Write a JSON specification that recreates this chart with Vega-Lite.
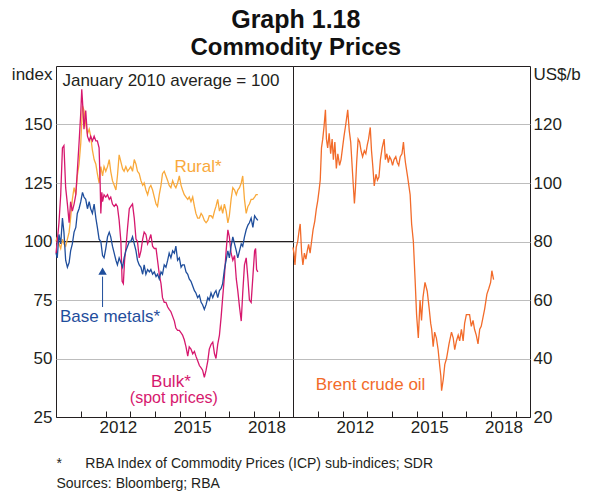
{
"$schema":"https://vega.github.io/schema/vega-lite/v6.json",
"background":"white",
"padding":{"left":10,"top":7,"right":5,"bottom":5},
"config":{"font":"Liberation Sans","view":{"stroke":"#231F20","strokeWidth":1},"axis":{"labelFont":"Liberation Sans","labelFontSize":17,"labelColor":"#231F20","titleFont":"Liberation Sans"}},
"title":{"text":"Graph 1.18","subtitle":"Commodity Prices","font":"Liberation Sans","subtitleFont":"Liberation Sans","fontSize":25,"subtitleFontSize":24,"fontWeight":"bold","subtitleFontWeight":"bold","color":"#111","subtitleColor":"#111","anchor":"middle","subtitlePadding":3,"offset":5},
"bounds":"flush",
"spacing":0,
"datasets":{
"idx":[
{"s":"Rural","t":2010.00,"v":100},{"s":"Rural","t":2010.05,"v":102},{"s":"Rural","t":2010.12,"v":99},{"s":"Rural","t":2010.19,"v":97},{"s":"Rural","t":2010.26,"v":101},{"s":"Rural","t":2010.32,"v":99},{"s":"Rural","t":2010.39,"v":98},{"s":"Rural","t":2010.46,"v":101},{"s":"Rural","t":2010.53,"v":104},{"s":"Rural","t":2010.59,"v":110},{"s":"Rural","t":2010.66,"v":118},{"s":"Rural","t":2010.73,"v":123},{"s":"Rural","t":2010.80,"v":120},{"s":"Rural","t":2010.86,"v":128},{"s":"Rural","t":2010.93,"v":133},{"s":"Rural","t":2011.00,"v":142},{"s":"Rural","t":2011.07,"v":158},{"s":"Rural","t":2011.13,"v":156},{"s":"Rural","t":2011.20,"v":150},{"s":"Rural","t":2011.27,"v":146},{"s":"Rural","t":2011.34,"v":148},{"s":"Rural","t":2011.40,"v":145},{"s":"Rural","t":2011.47,"v":139},{"s":"Rural","t":2011.54,"v":135},{"s":"Rural","t":2011.61,"v":133},{"s":"Rural","t":2011.67,"v":129},{"s":"Rural","t":2011.74,"v":125},{"s":"Rural","t":2011.81,"v":132},{"s":"Rural","t":2011.88,"v":128},{"s":"Rural","t":2011.94,"v":132},{"s":"Rural","t":2012.01,"v":130},{"s":"Rural","t":2012.08,"v":132},{"s":"Rural","t":2012.15,"v":135},{"s":"Rural","t":2012.21,"v":130},{"s":"Rural","t":2012.28,"v":126},{"s":"Rural","t":2012.35,"v":124},{"s":"Rural","t":2012.42,"v":122},{"s":"Rural","t":2012.48,"v":128},{"s":"Rural","t":2012.55,"v":137},{"s":"Rural","t":2012.62,"v":134},{"s":"Rural","t":2012.69,"v":131},{"s":"Rural","t":2012.75,"v":130},{"s":"Rural","t":2012.82,"v":132},{"s":"Rural","t":2012.89,"v":130},{"s":"Rural","t":2012.96,"v":131},{"s":"Rural","t":2013.02,"v":132},{"s":"Rural","t":2013.09,"v":130},{"s":"Rural","t":2013.16,"v":135},{"s":"Rural","t":2013.23,"v":133},{"s":"Rural","t":2013.29,"v":130},{"s":"Rural","t":2013.36,"v":129},{"s":"Rural","t":2013.43,"v":126},{"s":"Rural","t":2013.50,"v":124},{"s":"Rural","t":2013.56,"v":125},{"s":"Rural","t":2013.63,"v":122},{"s":"Rural","t":2013.70,"v":120},{"s":"Rural","t":2013.77,"v":123},{"s":"Rural","t":2013.83,"v":124},{"s":"Rural","t":2013.90,"v":122},{"s":"Rural","t":2013.97,"v":119},{"s":"Rural","t":2014.04,"v":116},{"s":"Rural","t":2014.10,"v":115},{"s":"Rural","t":2014.17,"v":120},{"s":"Rural","t":2014.24,"v":124},{"s":"Rural","t":2014.30,"v":129},{"s":"Rural","t":2014.37,"v":130},{"s":"Rural","t":2014.44,"v":128},{"s":"Rural","t":2014.51,"v":126},{"s":"Rural","t":2014.57,"v":124},{"s":"Rural","t":2014.64,"v":123},{"s":"Rural","t":2014.71,"v":126},{"s":"Rural","t":2014.78,"v":124},{"s":"Rural","t":2014.84,"v":123},{"s":"Rural","t":2014.91,"v":125},{"s":"Rural","t":2014.98,"v":128},{"s":"Rural","t":2015.05,"v":124},{"s":"Rural","t":2015.11,"v":122},{"s":"Rural","t":2015.18,"v":120},{"s":"Rural","t":2015.25,"v":119},{"s":"Rural","t":2015.32,"v":118},{"s":"Rural","t":2015.38,"v":119},{"s":"Rural","t":2015.45,"v":117},{"s":"Rural","t":2015.52,"v":119},{"s":"Rural","t":2015.59,"v":115},{"s":"Rural","t":2015.65,"v":112},{"s":"Rural","t":2015.72,"v":110},{"s":"Rural","t":2015.79,"v":110},{"s":"Rural","t":2015.86,"v":112},{"s":"Rural","t":2015.92,"v":111},{"s":"Rural","t":2015.99,"v":109},{"s":"Rural","t":2016.06,"v":108},{"s":"Rural","t":2016.13,"v":109},{"s":"Rural","t":2016.19,"v":111},{"s":"Rural","t":2016.26,"v":111},{"s":"Rural","t":2016.33,"v":110},{"s":"Rural","t":2016.40,"v":113},{"s":"Rural","t":2016.46,"v":115},{"s":"Rural","t":2016.53,"v":118},{"s":"Rural","t":2016.60,"v":113},{"s":"Rural","t":2016.67,"v":115},{"s":"Rural","t":2016.73,"v":112},{"s":"Rural","t":2016.80,"v":116},{"s":"Rural","t":2016.87,"v":113},{"s":"Rural","t":2016.94,"v":108},{"s":"Rural","t":2017.00,"v":111},{"s":"Rural","t":2017.07,"v":118},{"s":"Rural","t":2017.14,"v":123},{"s":"Rural","t":2017.21,"v":122},{"s":"Rural","t":2017.28,"v":120},{"s":"Rural","t":2017.34,"v":122},{"s":"Rural","t":2017.41,"v":123},{"s":"Rural","t":2017.48,"v":125},{"s":"Rural","t":2017.54,"v":128},{"s":"Rural","t":2017.61,"v":118},{"s":"Rural","t":2017.68,"v":112},{"s":"Rural","t":2017.75,"v":115},{"s":"Rural","t":2017.81,"v":116},{"s":"Rural","t":2017.88,"v":118},{"s":"Rural","t":2017.95,"v":118},{"s":"Rural","t":2018.02,"v":119},{"s":"Rural","t":2018.08,"v":120},{"s":"Rural","t":2018.15,"v":120},
{"s":"Bulk","t":2010.00,"v":95},{"s":"Bulk","t":2010.05,"v":100},{"s":"Bulk","t":2010.12,"v":108},{"s":"Bulk","t":2010.19,"v":120},{"s":"Bulk","t":2010.26,"v":140},{"s":"Bulk","t":2010.32,"v":141},{"s":"Bulk","t":2010.39,"v":123},{"s":"Bulk","t":2010.46,"v":116},{"s":"Bulk","t":2010.53,"v":108},{"s":"Bulk","t":2010.59,"v":117},{"s":"Bulk","t":2010.66,"v":113},{"s":"Bulk","t":2010.73,"v":116},{"s":"Bulk","t":2010.80,"v":120},{"s":"Bulk","t":2010.86,"v":130},{"s":"Bulk","t":2010.93,"v":142},{"s":"Bulk","t":2011.00,"v":155},{"s":"Bulk","t":2011.04,"v":165},{"s":"Bulk","t":2011.07,"v":160},{"s":"Bulk","t":2011.13,"v":148},{"s":"Bulk","t":2011.20,"v":156},{"s":"Bulk","t":2011.27,"v":145},{"s":"Bulk","t":2011.34,"v":143},{"s":"Bulk","t":2011.40,"v":145},{"s":"Bulk","t":2011.47,"v":143},{"s":"Bulk","t":2011.54,"v":145},{"s":"Bulk","t":2011.61,"v":143},{"s":"Bulk","t":2011.67,"v":143},{"s":"Bulk","t":2011.74,"v":140},{"s":"Bulk","t":2011.78,"v":126},{"s":"Bulk","t":2011.81,"v":112},{"s":"Bulk","t":2011.85,"v":121},{"s":"Bulk","t":2011.88,"v":117},{"s":"Bulk","t":2011.94,"v":120},{"s":"Bulk","t":2012.01,"v":119},{"s":"Bulk","t":2012.08,"v":120},{"s":"Bulk","t":2012.15,"v":118},{"s":"Bulk","t":2012.21,"v":119},{"s":"Bulk","t":2012.28,"v":116},{"s":"Bulk","t":2012.35,"v":115},{"s":"Bulk","t":2012.42,"v":116},{"s":"Bulk","t":2012.48,"v":115},{"s":"Bulk","t":2012.55,"v":109},{"s":"Bulk","t":2012.62,"v":100},{"s":"Bulk","t":2012.67,"v":83},{"s":"Bulk","t":2012.72,"v":82},{"s":"Bulk","t":2012.77,"v":92},{"s":"Bulk","t":2012.82,"v":97},{"s":"Bulk","t":2012.89,"v":106},{"s":"Bulk","t":2012.96,"v":114},{"s":"Bulk","t":2013.02,"v":115},{"s":"Bulk","t":2013.09,"v":116},{"s":"Bulk","t":2013.16,"v":110},{"s":"Bulk","t":2013.23,"v":101},{"s":"Bulk","t":2013.29,"v":100},{"s":"Bulk","t":2013.36,"v":93},{"s":"Bulk","t":2013.43,"v":96},{"s":"Bulk","t":2013.50,"v":101},{"s":"Bulk","t":2013.56,"v":104},{"s":"Bulk","t":2013.63,"v":103},{"s":"Bulk","t":2013.70,"v":99},{"s":"Bulk","t":2013.77,"v":101},{"s":"Bulk","t":2013.83,"v":103},{"s":"Bulk","t":2013.90,"v":98},{"s":"Bulk","t":2013.97,"v":97},{"s":"Bulk","t":2014.04,"v":97},{"s":"Bulk","t":2014.10,"v":92},{"s":"Bulk","t":2014.17,"v":86},{"s":"Bulk","t":2014.24,"v":82},{"s":"Bulk","t":2014.30,"v":76},{"s":"Bulk","t":2014.37,"v":74},{"s":"Bulk","t":2014.44,"v":74},{"s":"Bulk","t":2014.51,"v":72},{"s":"Bulk","t":2014.57,"v":71},{"s":"Bulk","t":2014.64,"v":70},{"s":"Bulk","t":2014.71,"v":68},{"s":"Bulk","t":2014.78,"v":66},{"s":"Bulk","t":2014.84,"v":63},{"s":"Bulk","t":2014.91,"v":62},{"s":"Bulk","t":2014.98,"v":62},{"s":"Bulk","t":2015.05,"v":61},{"s":"Bulk","t":2015.11,"v":60},{"s":"Bulk","t":2015.18,"v":58},{"s":"Bulk","t":2015.25,"v":55},{"s":"Bulk","t":2015.32,"v":51},{"s":"Bulk","t":2015.38,"v":55},{"s":"Bulk","t":2015.45,"v":54},{"s":"Bulk","t":2015.52,"v":52},{"s":"Bulk","t":2015.59,"v":53},{"s":"Bulk","t":2015.65,"v":51},{"s":"Bulk","t":2015.72,"v":49},{"s":"Bulk","t":2015.79,"v":47},{"s":"Bulk","t":2015.86,"v":46},{"s":"Bulk","t":2015.92,"v":45},{"s":"Bulk","t":2015.99,"v":42},{"s":"Bulk","t":2016.06,"v":45},{"s":"Bulk","t":2016.13,"v":49},{"s":"Bulk","t":2016.19,"v":54},{"s":"Bulk","t":2016.26,"v":56},{"s":"Bulk","t":2016.33,"v":57},{"s":"Bulk","t":2016.40,"v":52},{"s":"Bulk","t":2016.46,"v":50},{"s":"Bulk","t":2016.53,"v":56},{"s":"Bulk","t":2016.60,"v":60},{"s":"Bulk","t":2016.67,"v":68},{"s":"Bulk","t":2016.73,"v":76},{"s":"Bulk","t":2016.80,"v":85},{"s":"Bulk","t":2016.87,"v":96},{"s":"Bulk","t":2016.94,"v":105},{"s":"Bulk","t":2017.00,"v":102},{"s":"Bulk","t":2017.07,"v":95},{"s":"Bulk","t":2017.14,"v":92},{"s":"Bulk","t":2017.21,"v":94},{"s":"Bulk","t":2017.28,"v":84},{"s":"Bulk","t":2017.34,"v":79},{"s":"Bulk","t":2017.41,"v":72},{"s":"Bulk","t":2017.48,"v":66},{"s":"Bulk","t":2017.54,"v":78},{"s":"Bulk","t":2017.61,"v":90},{"s":"Bulk","t":2017.68,"v":93},{"s":"Bulk","t":2017.75,"v":84},{"s":"Bulk","t":2017.81,"v":75},{"s":"Bulk","t":2017.88,"v":74},{"s":"Bulk","t":2017.95,"v":85},{"s":"Bulk","t":2018.02,"v":96},{"s":"Bulk","t":2018.06,"v":97},{"s":"Bulk","t":2018.10,"v":88},{"s":"Bulk","t":2018.15,"v":87},
{"s":"Base metals","t":2010.00,"v":95},{"s":"Base metals","t":2010.05,"v":93},{"s":"Base metals","t":2010.12,"v":103},{"s":"Base metals","t":2010.19,"v":99},{"s":"Base metals","t":2010.26,"v":110},{"s":"Base metals","t":2010.32,"v":104},{"s":"Base metals","t":2010.39,"v":92},{"s":"Base metals","t":2010.46,"v":89},{"s":"Base metals","t":2010.53,"v":91},{"s":"Base metals","t":2010.59,"v":96},{"s":"Base metals","t":2010.66,"v":99},{"s":"Base metals","t":2010.73,"v":104},{"s":"Base metals","t":2010.80,"v":106},{"s":"Base metals","t":2010.86,"v":112},{"s":"Base metals","t":2010.93,"v":114},{"s":"Base metals","t":2011.00,"v":117},{"s":"Base metals","t":2011.07,"v":121},{"s":"Base metals","t":2011.13,"v":119},{"s":"Base metals","t":2011.20,"v":118},{"s":"Base metals","t":2011.27,"v":114},{"s":"Base metals","t":2011.34,"v":117},{"s":"Base metals","t":2011.40,"v":114},{"s":"Base metals","t":2011.47,"v":112},{"s":"Base metals","t":2011.54,"v":116},{"s":"Base metals","t":2011.61,"v":110},{"s":"Base metals","t":2011.67,"v":106},{"s":"Base metals","t":2011.74,"v":101},{"s":"Base metals","t":2011.81,"v":100},{"s":"Base metals","t":2011.88,"v":94},{"s":"Base metals","t":2011.94,"v":93},{"s":"Base metals","t":2012.01,"v":97},{"s":"Base metals","t":2012.08,"v":102},{"s":"Base metals","t":2012.15,"v":104},{"s":"Base metals","t":2012.21,"v":102},{"s":"Base metals","t":2012.28,"v":98},{"s":"Base metals","t":2012.35,"v":95},{"s":"Base metals","t":2012.42,"v":92},{"s":"Base metals","t":2012.48,"v":90},{"s":"Base metals","t":2012.55,"v":93},{"s":"Base metals","t":2012.62,"v":91},{"s":"Base metals","t":2012.69,"v":89},{"s":"Base metals","t":2012.75,"v":93},{"s":"Base metals","t":2012.82,"v":96},{"s":"Base metals","t":2012.89,"v":98},{"s":"Base metals","t":2012.96,"v":100},{"s":"Base metals","t":2013.02,"v":100},{"s":"Base metals","t":2013.09,"v":102},{"s":"Base metals","t":2013.16,"v":99},{"s":"Base metals","t":2013.23,"v":96},{"s":"Base metals","t":2013.29,"v":92},{"s":"Base metals","t":2013.36,"v":90},{"s":"Base metals","t":2013.43,"v":89},{"s":"Base metals","t":2013.50,"v":86},{"s":"Base metals","t":2013.56,"v":90},{"s":"Base metals","t":2013.63,"v":86},{"s":"Base metals","t":2013.70,"v":88},{"s":"Base metals","t":2013.77,"v":87},{"s":"Base metals","t":2013.83,"v":88},{"s":"Base metals","t":2013.90,"v":86},{"s":"Base metals","t":2013.97,"v":87},{"s":"Base metals","t":2014.04,"v":85},{"s":"Base metals","t":2014.10,"v":86},{"s":"Base metals","t":2014.17,"v":84},{"s":"Base metals","t":2014.24,"v":87},{"s":"Base metals","t":2014.30,"v":86},{"s":"Base metals","t":2014.37,"v":90},{"s":"Base metals","t":2014.44,"v":89},{"s":"Base metals","t":2014.51,"v":92},{"s":"Base metals","t":2014.57,"v":95},{"s":"Base metals","t":2014.64,"v":93},{"s":"Base metals","t":2014.71,"v":96},{"s":"Base metals","t":2014.78,"v":95},{"s":"Base metals","t":2014.84,"v":98},{"s":"Base metals","t":2014.91,"v":92},{"s":"Base metals","t":2014.98,"v":93},{"s":"Base metals","t":2015.05,"v":89},{"s":"Base metals","t":2015.11,"v":90},{"s":"Base metals","t":2015.18,"v":90},{"s":"Base metals","t":2015.25,"v":87},{"s":"Base metals","t":2015.32,"v":86},{"s":"Base metals","t":2015.38,"v":84},{"s":"Base metals","t":2015.45,"v":83},{"s":"Base metals","t":2015.52,"v":81},{"s":"Base metals","t":2015.59,"v":79},{"s":"Base metals","t":2015.65,"v":78},{"s":"Base metals","t":2015.72,"v":76},{"s":"Base metals","t":2015.79,"v":77},{"s":"Base metals","t":2015.86,"v":74},{"s":"Base metals","t":2015.92,"v":73},{"s":"Base metals","t":2015.99,"v":71},{"s":"Base metals","t":2016.06,"v":73},{"s":"Base metals","t":2016.13,"v":76},{"s":"Base metals","t":2016.19,"v":75},{"s":"Base metals","t":2016.26,"v":78},{"s":"Base metals","t":2016.33,"v":76},{"s":"Base metals","t":2016.40,"v":78},{"s":"Base metals","t":2016.46,"v":79},{"s":"Base metals","t":2016.53,"v":76},{"s":"Base metals","t":2016.60,"v":79},{"s":"Base metals","t":2016.67,"v":80},{"s":"Base metals","t":2016.73,"v":82},{"s":"Base metals","t":2016.80,"v":88},{"s":"Base metals","t":2016.87,"v":92},{"s":"Base metals","t":2016.94,"v":96},{"s":"Base metals","t":2017.00,"v":93},{"s":"Base metals","t":2017.07,"v":98},{"s":"Base metals","t":2017.14,"v":102},{"s":"Base metals","t":2017.21,"v":99},{"s":"Base metals","t":2017.28,"v":96},{"s":"Base metals","t":2017.34,"v":93},{"s":"Base metals","t":2017.41,"v":96},{"s":"Base metals","t":2017.48,"v":99},{"s":"Base metals","t":2017.54,"v":98},{"s":"Base metals","t":2017.61,"v":102},{"s":"Base metals","t":2017.68,"v":105},{"s":"Base metals","t":2017.75,"v":107},{"s":"Base metals","t":2017.81,"v":108},{"s":"Base metals","t":2017.88,"v":110},{"s":"Base metals","t":2017.95,"v":106},{"s":"Base metals","t":2018.02,"v":111},{"s":"Base metals","t":2018.08,"v":110},{"s":"Base metals","t":2018.15,"v":109}
],
"oil":[
{"t":2010.00,"v":78},{"t":2010.04,"v":76},{"t":2010.08,"v":72},{"t":2010.13,"v":78},{"t":2010.19,"v":80},{"t":2010.25,"v":84},{"t":2010.29,"v":86},{"t":2010.35,"v":76},{"t":2010.40,"v":72},{"t":2010.46,"v":76},{"t":2010.52,"v":74},{"t":2010.58,"v":77},{"t":2010.63,"v":79},{"t":2010.69,"v":76},{"t":2010.75,"v":80},{"t":2010.81,"v":84},{"t":2010.88,"v":87},{"t":2010.94,"v":91},{"t":2011.00,"v":94},{"t":2011.06,"v":98},{"t":2011.10,"v":101},{"t":2011.15,"v":112},{"t":2011.20,"v":115},{"t":2011.25,"v":119},{"t":2011.31,"v":125},{"t":2011.35,"v":115},{"t":2011.40,"v":112},{"t":2011.46,"v":117},{"t":2011.52,"v":110},{"t":2011.58,"v":115},{"t":2011.63,"v":108},{"t":2011.69,"v":114},{"t":2011.75,"v":105},{"t":2011.81,"v":110},{"t":2011.88,"v":106},{"t":2011.94,"v":108},{"t":2012.00,"v":112},{"t":2012.06,"v":116},{"t":2012.13,"v":120},{"t":2012.21,"v":125},{"t":2012.27,"v":118},{"t":2012.33,"v":114},{"t":2012.40,"v":104},{"t":2012.48,"v":93},{"t":2012.52,"v":98},{"t":2012.57,"v":107},{"t":2012.63,"v":115},{"t":2012.69,"v":114},{"t":2012.75,"v":111},{"t":2012.81,"v":109},{"t":2012.88,"v":111},{"t":2012.94,"v":110},{"t":2013.00,"v":113},{"t":2013.05,"v":115},{"t":2013.12,"v":119},{"t":2013.17,"v":111},{"t":2013.22,"v":106},{"t":2013.28,"v":99},{"t":2013.35,"v":103},{"t":2013.41,"v":101},{"t":2013.47,"v":102},{"t":2013.53,"v":108},{"t":2013.60,"v":112},{"t":2013.68,"v":115},{"t":2013.73,"v":108},{"t":2013.79,"v":110},{"t":2013.85,"v":107},{"t":2013.90,"v":109},{"t":2013.96,"v":108},{"t":2014.02,"v":106},{"t":2014.08,"v":108},{"t":2014.15,"v":109},{"t":2014.21,"v":107},{"t":2014.27,"v":106},{"t":2014.33,"v":109},{"t":2014.40,"v":110},{"t":2014.46,"v":114},{"t":2014.50,"v":110},{"t":2014.54,"v":107},{"t":2014.63,"v":102},{"t":2014.73,"v":96},{"t":2014.79,"v":86},{"t":2014.86,"v":80},{"t":2014.93,"v":67},{"t":2014.99,"v":55},{"t":2015.06,"v":47},{"t":2015.13,"v":60},{"t":2015.19,"v":53},{"t":2015.25,"v":61},{"t":2015.33,"v":66},{"t":2015.42,"v":63},{"t":2015.50,"v":57},{"t":2015.56,"v":52},{"t":2015.60,"v":50},{"t":2015.66,"v":44},{"t":2015.72,"v":49},{"t":2015.79,"v":47},{"t":2015.86,"v":43},{"t":2015.93,"v":37},{"t":2015.97,"v":34},{"t":2016.00,"v":29},{"t":2016.07,"v":33},{"t":2016.13,"v":38},{"t":2016.20,"v":40},{"t":2016.30,"v":45},{"t":2016.40,"v":49},{"t":2016.47,"v":47},{"t":2016.53,"v":43},{"t":2016.60,"v":46},{"t":2016.67,"v":48},{"t":2016.73,"v":46},{"t":2016.80,"v":50},{"t":2016.87,"v":46},{"t":2016.93,"v":52},{"t":2017.00,"v":55},{"t":2017.07,"v":55},{"t":2017.13,"v":55},{"t":2017.20,"v":51},{"t":2017.27,"v":53},{"t":2017.33,"v":50},{"t":2017.40,"v":48},{"t":2017.47,"v":45},{"t":2017.54,"v":50},{"t":2017.60,"v":51},{"t":2017.67,"v":54},{"t":2017.74,"v":57},{"t":2017.83,"v":62},{"t":2017.91,"v":64},{"t":2017.98,"v":66},{"t":2018.03,"v":70},{"t":2018.10,"v":67}
]
},
"hconcat":[
{
"width":237,"height":351,
"encoding":{
"x":{"field":"t","type":"quantitative","scale":{"domain":[2010,2019.57],"nice":false,"zero":false},
"axis":{"values":[2011,2012,2013,2014,2015,2016,2017,2018,2019],"format":"d","labelExpr":"(datum.value==2012||datum.value==2015||datum.value==2018) ? datum.label : ''","labelOffset":12.35,"tickSize":-6,"tickColor":"#231F20","domainColor":"#231F20","labelPadding":8,"grid":false,
"title":["*\u00a0\u00a0\u00a0\u00a0\u00a0\u00a0RBA Index of Commodity Prices (ICP) sub-indices; SDR","Sources: Bloomberg; RBA"],"titleAnchor":"start","titleAlign":"left","titleX":0,"titleY":50,"titleBaseline":"alphabetic","titleFontSize":14,"titleFontWeight":"normal","titleLineHeight":20,"titleColor":"#231F20"}},
"y":{"field":"v","type":"quantitative","scale":{"domain":[25,175],"nice":false,"zero":false},
"axis":{"values":[25,50,75,100,125,150,175],"labelExpr":"datum.value==175 ? 'index' : datum.label","tickSize":0,"labelPadding":4,"domain":false,"grid":true,"gridColor":"#BDBDBD","gridOpacity":{"condition":{"test":"datum.value==175 || datum.value==25","value":0},"value":1},"labelBaseline":{"condition":{"test":"datum.value==175","value":"top"},"value":"middle"},"title":null}}
},
"layer":[
{"data":{"values":[{"v":100}]},"mark":{"type":"rule","color":"#231F20","strokeWidth":1},"encoding":{"y":{"field":"v","type":"quantitative"},"x":{"value":0},"x2":{"value":237}}},
{"data":{"name":"idx"},"mark":{"type":"line","strokeWidth":1.3},"encoding":{"color":{"field":"s","type":"nominal","scale":{"domain":["Rural","Bulk","Base metals"],"range":["#F9A93B","#D6186E","#1F4E9C"]},"legend":null}}},
{"data":{"values":[{"t":2010.26,"v":168.5,"label":"January 2010 average = 100"}]},"mark":{"type":"text","align":"left","baseline":"middle","fontSize":17,"color":"#231F20"},"encoding":{"text":{"field":"label"}}},
{"data":{"values":[{"t":2014.78,"v":132,"label":"Rural*"}]},"mark":{"type":"text","align":"left","baseline":"middle","fontSize":17,"color":"#F9A93B"},"encoding":{"text":{"field":"label"}}},
{"data":{"values":[{"t":2010.16,"v":67.7,"label":"Base metals*"}]},"mark":{"type":"text","align":"left","baseline":"middle","fontSize":17,"color":"#1F4E9C"},"encoding":{"text":{"field":"label"}}},
{"data":{"values":[{"t":2014.64,"v":40,"label":"Bulk*"}]},"mark":{"type":"text","align":"center","baseline":"middle","fontSize":17,"color":"#D6186E"},"encoding":{"text":{"field":"label"}}},
{"data":{"values":[{"t":2014.76,"v":33.1,"label":"(spot prices)"}]},"mark":{"type":"text","align":"center","baseline":"middle","fontSize":16,"color":"#D6186E"},"encoding":{"text":{"field":"label"}}},
{"data":{"values":[{"t":2011.88,"v":72,"v2":85}]},"mark":{"type":"rule","color":"#1F4E9C","strokeWidth":1},"encoding":{"y2":{"field":"v2"}}},
{"data":{"values":[{"t":2011.88,"v":87.3}]},"mark":{"type":"point","shape":"triangle-up","size":70,"filled":true,"color":"#1F4E9C","opacity":1,"strokeWidth":0},"encoding":{"x":{"field":"t","type":"quantitative"},"y":{"field":"v","type":"quantitative"}}}
]
},
{
"width":237,"height":351,
"encoding":{
"x":{"field":"t","type":"quantitative","scale":{"domain":[2010,2019.57],"nice":false,"zero":false},
"axis":{"values":[2011,2012,2013,2014,2015,2016,2017,2018,2019],"format":"d","labelExpr":"(datum.value==2012||datum.value==2015||datum.value==2018) ? datum.label : ''","labelOffset":12.35,"tickSize":-6,"tickColor":"#231F20","domainColor":"#231F20","labelPadding":8,"grid":false,"title":null}},
"y":{"field":"v","type":"quantitative","scale":{"domain":[20,140],"nice":false,"zero":false},
"axis":{"orient":"right","values":[20,40,60,80,100,120,140],"labelExpr":"datum.value==140 ? 'US$/b' : datum.label","tickSize":0,"labelPadding":3,"domain":false,"grid":true,"gridColor":"#BDBDBD","gridOpacity":{"condition":{"test":"datum.value==140 || datum.value==20","value":0},"value":1},"labelBaseline":{"condition":{"test":"datum.value==140","value":"top"},"value":"middle"},"title":null}}
},
"layer":[
{"data":{"name":"oil"},"mark":{"type":"line","strokeWidth":1.3,"color":"#F26B2A"}},
{"data":{"values":[{"t":2010.92,"v":30.9,"label":"Brent crude oil"}]},"mark":{"type":"text","align":"left","baseline":"middle","fontSize":17,"color":"#F26B2A"},"encoding":{"text":{"field":"label"}}}
]
}
]
}
